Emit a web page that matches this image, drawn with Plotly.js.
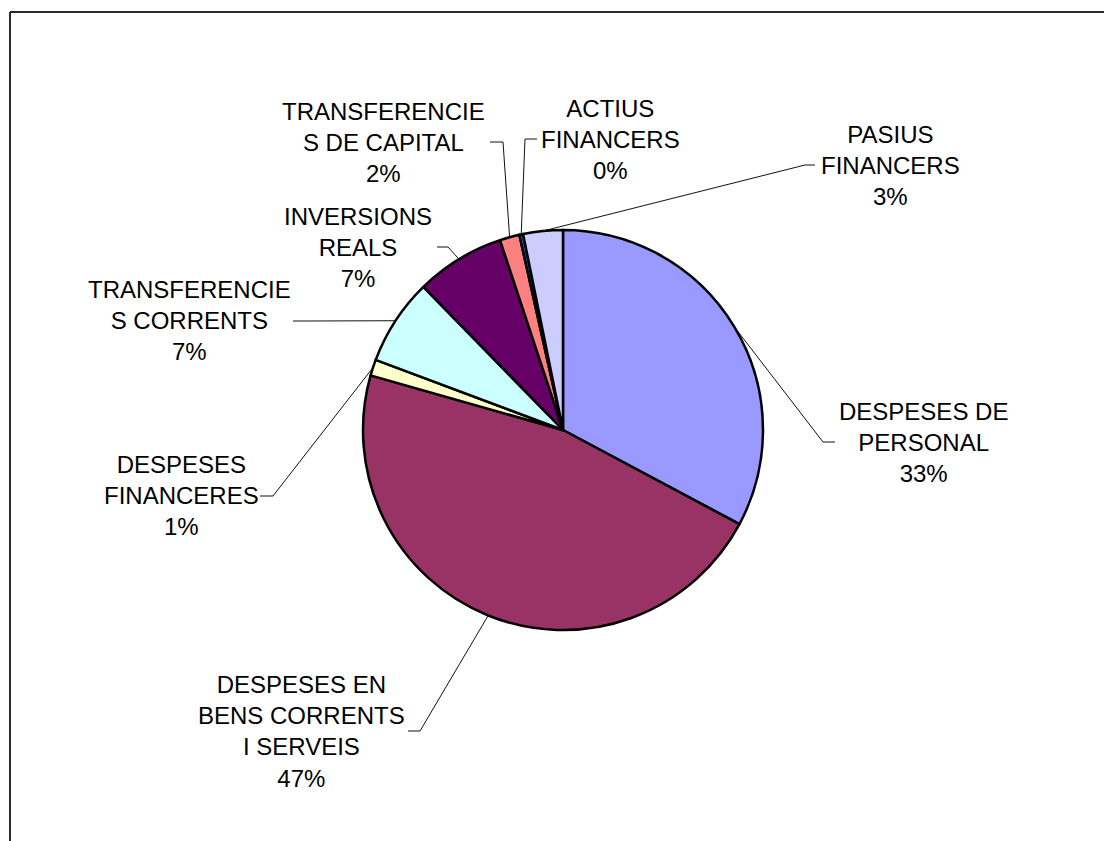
<!DOCTYPE html>
<html>
<head>
<meta charset="utf-8">
<script src="https://cdn.plot.ly/plotly-3.0.1.min.js"></script>
<style>html,body{margin:0;padding:0;background:#fff;}#chart{width:1104px;height:841px;}</style>
</head>
<body>
<div id="chart"></div>
<script>
// ---- data ----
const categories = [
  "DESPESES DE PERSONAL",
  "DESPESES EN BENS CORRENTS I SERVEIS",
  "DESPESES FINANCERES",
  "TRANSFERENCIES CORRENTS",
  "INVERSIONS REALS",
  "TRANSFERENCIES DE CAPITAL",
  "ACTIUS FINANCERS",
  "PASIUS FINANCERS"
];
const values = [32.8, 46.6, 1.3, 7.0, 7.2, 1.6, 0.3, 3.2];
const labelLines = [
  "DESPESES DE<br>PERSONAL",
  "DESPESES EN<br>BENS CORRENTS<br>I SERVEIS",
  "DESPESES<br>FINANCERES",
  "TRANSFERENCIE<br>S CORRENTS",
  "INVERSIONS<br>REALS",
  "TRANSFERENCIE<br>S DE CAPITAL",
  "ACTIUS<br>FINANCERS",
  "PASIUS<br>FINANCERS"
];
const colors = ["#9999FF", "#993366", "#FFFFCC", "#CCFFFF", "#660066", "#FF8080", "#0066CC", "#CCCCFF"];

// ---- layout (pixels) ----
const W = 1104, H = 841;
const cx = 563, cy = 430, R = 200;
// label block centres, and leader horizontal segment [x near label, bend x]
const labelCenter = [[923, 442], [301, 731], [181, 496], [189, 321], [358, 247], [383, 142], [610, 139], [890, 165]];
const leaderSeg = [[835, 823], [408, 420], [260, 273], [293, 305], [437, 448], [490, 503], [537, 525], [815, 805]];

const px = x => x / W;
const py = y => 1 - y / H;

const total = values.reduce((a, b) => a + b, 0);
const annotations = [];
const shapes = [];
let cum = 0;
values.forEach((v, i) => {
  const th = 2 * Math.PI * (cum + v / 2) / total;
  cum += v;
  const ax = cx + R * Math.sin(th), ay = cy - R * Math.cos(th);
  const pct = Math.round(v / total * 100) + "%";
  const [lx, ly] = labelCenter[i];
  annotations.push({
    xref: "paper", yref: "paper", x: px(lx), y: py(ly),
    xanchor: "center", yanchor: "middle", showarrow: false,
    align: "center",
    text: labelLines[i] + "<br>" + pct,
    font: {family: "Liberation Sans, Arial, Helvetica, sans-serif", size: 24, color: "#000"}
  });
  const [s0, s1] = leaderSeg[i];
  shapes.push({
    type: "path", xref: "paper", yref: "paper",
    path: `M ${px(s0)},${py(ly)} L ${px(s1)},${py(ly)} L ${px(ax)},${py(ay)}`,
    line: {color: "#111", width: 1}
  });
});

// chart-area frame (top and left visible)
shapes.push({type: "line", xref: "paper", yref: "paper", x0: px(10), y0: py(12), x1: px(W + 10), y1: py(12), line: {color: "#2a2a2a", width: 2}});
shapes.push({type: "line", xref: "paper", yref: "paper", x0: px(10), y0: py(12), x1: px(10), y1: py(H + 10), line: {color: "#2a2a2a", width: 2}});

const trace = {
  type: "pie",
  labels: categories,
  values: values,
  sort: false,
  direction: "clockwise",
  rotation: 0,
  textinfo: "none",
  hoverinfo: "skip",
  showlegend: false,
  marker: {colors: colors, line: {color: "#000", width: 2.5}},
  domain: {x: [px(cx - R), px(cx + R)], y: [py(cy + R), py(cy - R)]}
};

Plotly.newPlot("chart", [trace], {
  width: W, height: H,
  margin: {l: 0, r: 0, t: 0, b: 0},
  paper_bgcolor: "#fff",
  showlegend: false,
  annotations: annotations,
  shapes: shapes
}, {staticPlot: true});
</script>
</body>
</html>
